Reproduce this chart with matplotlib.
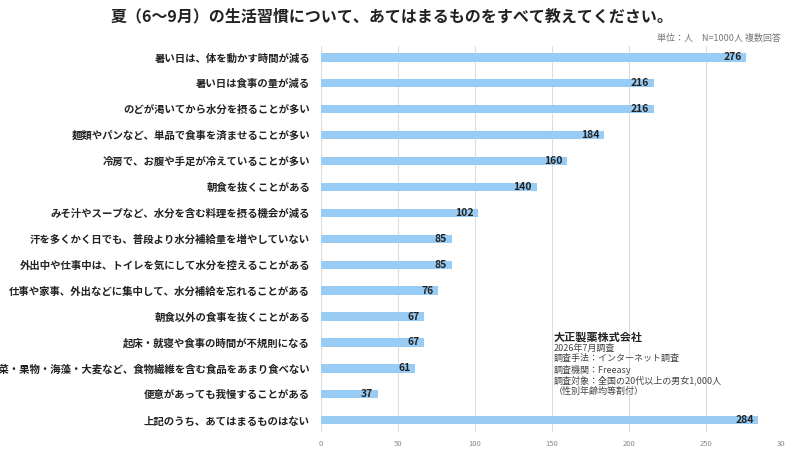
import matplotlib
matplotlib.use("agg")
import matplotlib.pyplot as plt

plt.rcParams["font.family"] = ["Noto Sans CJK JP", "DejaVu Sans"]

labels = [
    "暑い日は、体を動かす時間が減る",
    "暑い日は食事の量が減る",
    "のどが渇いてから水分を摂ることが多い",
    "麺類やパンなど、単品で食事を済ませることが多い",
    "冷房で、お腹や手足が冷えていることが多い",
    "朝食を抜くことがある",
    "みそ汁やスープなど、水分を含む料理を摂る機会が減る",
    "汗を多くかく日でも、普段より水分補給量を増やしていない",
    "外出中や仕事中は、トイレを気にして水分を控えることがある",
    "仕事や家事、外出などに集中して、水分補給を忘れることがある",
    "朝食以外の食事を抜くことがある",
    "起床・就寝や食事の時間が不規則になる",
    "野菜・果物・海藻・大麦など、食物繊維を含む食品をあまり食べない",
    "便意があっても我慢することがある",
    "上記のうち、あてはまるものはない",
]
values = [276, 216, 216, 184, 160, 140, 102, 85, 85, 76, 67, 67, 61, 37, 284]
xticks = [0, 50, 100, 150, 200, 250, 300]

fig = plt.figure(figsize=(7.85, 4.57), dpi=100)
ax = fig.add_axes([0.409, 0.055, 0.5885, 0.845])
y = list(range(len(values)))
ax.barh(y, values, height=0.32, color="#99ccf5", zorder=2)
for yi, v in zip(y, values):
    ax.text(v - 3, yi, str(v), ha="right", va="center", fontsize=7.5,
            fontweight="bold", color="#222222", zorder=3)
ax.set_ylim(len(values) - 0.55, -0.45)
ax.set_xlim(0, 300)
ax.set_xticks(xticks)
ax.set_yticks(y)
ax.set_yticklabels(labels, fontsize=7.5, fontweight="bold", color="#222222")
ax.tick_params(axis="x", labelsize=5.5, colors="#888888", length=0, pad=6)
ax.tick_params(axis="y", length=0, pad=8)
ax.grid(axis="x", color="#dddddd", lw=0.8, zorder=0)
for s in ax.spines.values():
    s.set_visible(False)

fig.text(0.5, 0.965, "夏（6～9月）の生活習慣について、あてはまるものをすべて教えてください。",
         ha="center", va="center", fontsize=11.5, fontweight="bold", color="#222222")
fig.text(0.995, 0.915, "単位：人　N=1000人 複数回答", ha="right", va="center",
         fontsize=6.5, color="#777777")
fig.text(0.705, 0.262, "大正製薬株式会社", ha="left", va="center", fontsize=8,
         fontweight="bold", color="#222222")
fig.text(0.705, 0.247, "2026年7月調査\n調査手法：インターネット調査\n調査機関：Freeasy\n"
         "調査対象：全国の20代以上の男女1,000人\n（性別年齢均等割付）",
         ha="left", va="top", fontsize=6.5, color="#444444", linespacing=1.15)

fig.savefig("out.png", dpi=100)
